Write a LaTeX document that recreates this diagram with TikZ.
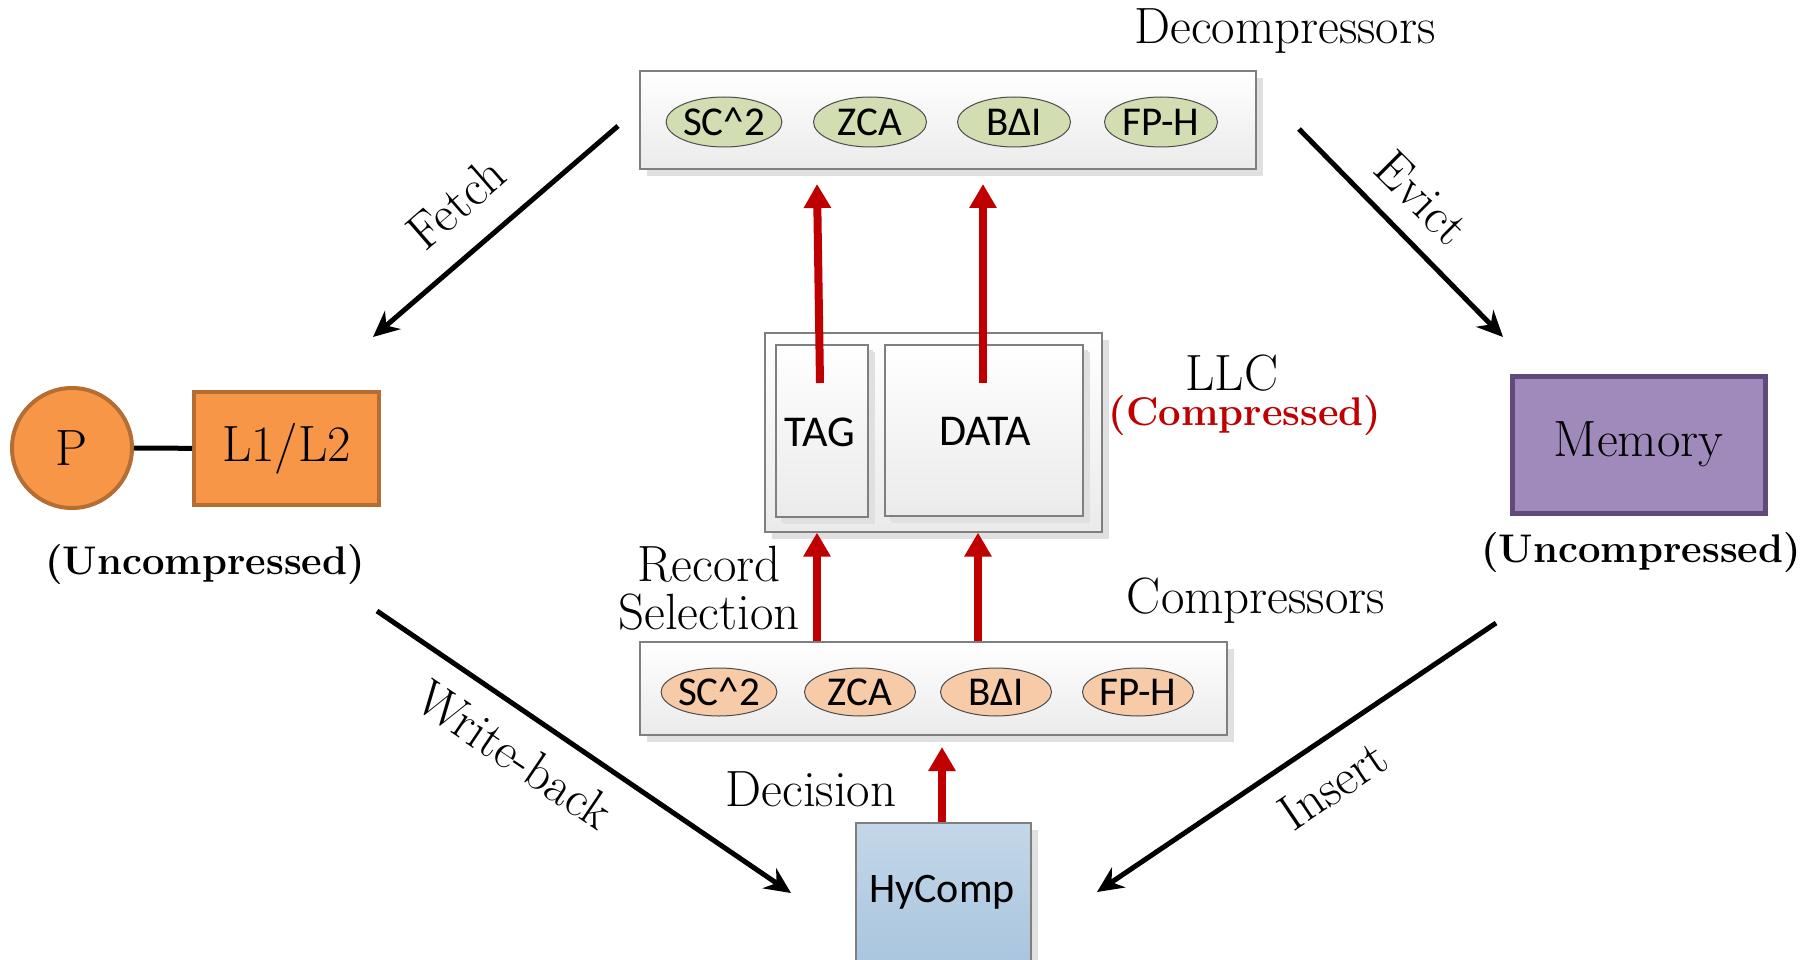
\documentclass[tikz,border=0pt]{standalone}
\usepackage{fontspec}
\newfontfamily\carlitofont{Carlito}
\usetikzlibrary{arrows.meta,shadows,shapes.geometric}
\definecolor{grnfill}{HTML}{D3DDB2}
\definecolor{orfill}{HTML}{F7CBA8}
\definecolor{porange}{HTML}{F79646}
\definecolor{porangeb}{HTML}{B46D32}
\definecolor{memfill}{HTML}{A08ABB}
\definecolor{memb}{HTML}{5F4A7B}
\definecolor{hytop}{HTML}{C4D7E9}
\definecolor{hybot}{HTML}{A9C5DE}
\definecolor{redarr}{HTML}{C00000}
\definecolor{boxb}{HTML}{7F7F7F}
\tikzset{
  graybox/.style={draw=boxb, line width=1.2pt, top color=white, bottom color=black!8,
    drop shadow={shadow xshift=7pt, shadow yshift=-7pt, fill=black!12, opacity=1}},
  algo/.style={ellipse, draw=black!70, line width=1pt, minimum width=113pt, minimum height=50pt,
    inner sep=0pt, font=\carlitofont\fontsize{41}{44}\selectfont},
  galgo/.style={algo, fill=grnfill},
  oalgo/.style={algo, fill=orfill},
  redarrow/.style={draw=redarr, line width=8pt, -{Triangle[width=26pt,length=24pt]}},
  blkarrow/.style={draw=black, line width=5pt, -{Stealth[width=24pt,length=26pt]}},
  serif/.style={font=\fontsize{51}{54}\selectfont},
  boldlab/.style={font=\bfseries\fontsize{40}{44}\selectfont},
}
\begin{document}
\begin{tikzpicture}[x=1pt,y=-1pt]
\useasboundingbox (0,0) rectangle (1802,960);

% Decompressors
\node[graybox, minimum width=616pt, minimum height=98pt] (dec) at (948,120) {};
\node[serif] (declab) at (1285,31) {Decompressors};
\node[galgo] (d1) at (724,122) {SC\^{}2};
\node[galgo] (d2) at (870,122) {ZCA};
\node[galgo] (d3) at (1014,122) {BΔI};
\node[galgo] (d4) at (1161,122) {FP-H};

% LLC
\node[graybox, minimum width=337pt, minimum height=199pt] (llc) at (933.5,432.5) {};
\node[graybox, minimum width=92pt, minimum height=172pt, drop shadow={shadow xshift=5pt, shadow yshift=-5pt, fill=black!12, opacity=1}] (tag) at (822,431) {};
\node[graybox, minimum width=198pt, minimum height=171pt, drop shadow={shadow xshift=5pt, shadow yshift=-5pt, fill=black!12, opacity=1}] (data) at (984,430.5) {};
\node[font=\carlitofont\fontsize{44}{48}\selectfont] (tagt) at (820,432) {TAG};
\node[font=\carlitofont\fontsize{44}{48}\selectfont] (datat) at (985,431) {DATA};
\node[serif] (llclab) at (1232,373) {LLC};
\node[boldlab, text=redarr] (complab) at (1245,416) {(Compressed)};

\coordinate (tagstart) at (820,383);
\coordinate (tagend) at (817,184);
\coordinate (datastart) at (983,383);
\coordinate (dataend) at (983,184);
\draw[redarrow] (tagstart) -- (tagend);
\draw[redarrow] (datastart) -- (dataend);

% Compressors
\node[graybox, minimum width=587pt, minimum height=93pt] (comp) at (933.5,688.5) {};
\node[serif] (complab2) at (1256,601) {Compressors};
\node[oalgo, minimum width=111pt, minimum height=48pt] (c1) at (719,692) {SC\^{}2};
\node[oalgo, minimum width=111pt, minimum height=48pt] (c2) at (860,692) {ZCA};
\node[oalgo, minimum width=111pt, minimum height=48pt] (c3) at (996,692) {BΔI};
\node[oalgo, minimum width=111pt, minimum height=48pt] (c4) at (1138,692) {FP-H};
\node[serif, align=center] (reclab) at (709,588) {Record\\[-6pt]Selection};

\draw[redarrow] (comp.north -| tagend) -- (llc.south -| tagend);
\draw[redarrow] (comp.north -| 978,0) -- (llc.south -| 978,0);

% HyComp
\node[draw=boxb, line width=1.2pt, top color=hytop, bottom color=hybot,
  drop shadow={shadow xshift=7pt, shadow yshift=-7pt, fill=black!12, opacity=1},
  minimum width=175pt, minimum height=142pt] (hy) at (943.5,894) {};
\node[font=\carlitofont\fontsize{42}{46}\selectfont] (hyt) at (942,892) {HyComp};
\node[serif] (declab2) at (811,789) {Decision};
\draw[redarrow] (hy.north -| 942,0) -- (942,747);

% P and L1/L2
\node[circle, draw=porangeb, line width=4pt, fill=porange, minimum size=120pt, inner sep=0pt,
  serif] (p) at (72,448) {P};
\node[draw=porangeb, line width=4pt, fill=porange, minimum width=185pt, minimum height=113pt,
  serif] (l12) at (286.5,448.5) {L1/L2};
\draw[line width=5pt] (p) -- (l12);
\node[boldlab] (uncl) at (205,565) {(Uncompressed)};

% Memory
\node[draw=memb, line width=5pt, fill=memfill, minimum width=253pt, minimum height=137pt,
  serif] (mem) at (1638.5,444.5) {Memory};
\node[boldlab] (uncr) at (1641,553) {(Uncompressed)};

% black arrows
\coordinate (f1) at (618,126); \coordinate (f2) at (373,337);
\coordinate (e1) at (1299,129); \coordinate (e2) at (1503,337);
\coordinate (w1) at (377,611); \coordinate (w2) at (791,893);
\coordinate (i1) at (1496,623); \coordinate (i2) at (1097,892);
\draw[blkarrow] (f1) -- (f2);
\draw[blkarrow] (e1) -- (e2);
\draw[blkarrow] (w1) -- (w2);
\draw[blkarrow] (i1) -- (i2);
\node[serif, rotate=41] (fl) at (456,203) {Fetch};
\node[serif, rotate=-45] (el) at (1422,198) {Evict};
\node[serif, rotate=-34] (wl) at (515,755) {Write-back};
\node[serif, rotate=34] (il) at (1333,785) {Insert};
\end{tikzpicture}
\end{document}
